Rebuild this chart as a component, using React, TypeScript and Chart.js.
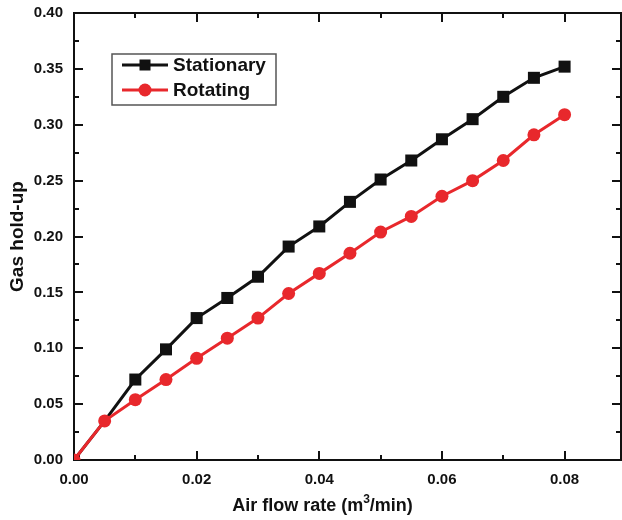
import { useEffect, useRef } from "react";
import { Chart, registerables } from "chart.js";

Chart.register(...registerables);

const flowRates = [0, 0.005, 0.01, 0.015, 0.02, 0.025, 0.03, 0.035, 0.04, 0.045, 0.05, 0.055, 0.06, 0.065, 0.07, 0.075, 0.08];
const stationary = [0, 0.035, 0.072, 0.099, 0.127, 0.145, 0.164, 0.191, 0.209, 0.231, 0.251, 0.268, 0.287, 0.305, 0.325, 0.342, 0.352];
const rotating = [0, 0.035, 0.054, 0.072, 0.091, 0.109, 0.127, 0.149, 0.167, 0.185, 0.204, 0.218, 0.236, 0.25, 0.268, 0.291, 0.309];
const seriesNames = ["Stationary", "Rotating"];
const xMajorTicks = [0, 0.02, 0.04, 0.06, 0.08];
const xMinorTicks = [0.01, 0.03, 0.05, 0.07];
const yMajorTicks = [0, 0.05, 0.1, 0.15, 0.2, 0.25, 0.3, 0.35, 0.4];
const yMinorTicks = [0.025, 0.075, 0.125, 0.175, 0.225, 0.275, 0.325, 0.375];

const FONT = '"Liberation Sans", Arial, sans-serif';
const INK = "#111111";
const RED = "#e8282c";

const framePlugin = {
  id: "frame",
  beforeDatasetsDraw(chart: any) {
    const { ctx, chartArea, scales } = chart;
    const { left, right, top, bottom } = chartArea;
    const x = scales.x;
    const y = scales.y;
    ctx.save();
    ctx.strokeStyle = INK;
    ctx.lineWidth = 2;
    ctx.strokeRect(left, top, right - left, bottom - top);
    const drawX = (v: number, len: number) => {
      const px = Math.round(x.getPixelForValue(v));
      ctx.beginPath();
      ctx.moveTo(px, bottom);
      ctx.lineTo(px, bottom - len);
      ctx.moveTo(px, top);
      ctx.lineTo(px, top + len);
      ctx.stroke();
    };
    const drawY = (v: number, len: number) => {
      const py = Math.round(y.getPixelForValue(v));
      ctx.beginPath();
      ctx.moveTo(left, py);
      ctx.lineTo(left + len, py);
      ctx.moveTo(right, py);
      ctx.lineTo(right - len, py);
      ctx.stroke();
    };
    xMajorTicks.forEach((v) => drawX(v, 9));
    xMinorTicks.forEach((v) => drawX(v, 5));
    yMajorTicks.forEach((v) => drawY(v, 9));
    yMinorTicks.forEach((v) => drawY(v, 5));
    ctx.restore();
  },
};

const annotPlugin = {
  id: "annot",
  afterDraw(chart: any) {
    const { ctx, chartArea } = chart;
    const { left, top, bottom, right } = chartArea;
    ctx.save();
    // legend
    const bx = left + 38;
    const by = top + 41;
    const bw = 164;
    const bh = 51;
    ctx.strokeStyle = "#555555";
    ctx.lineWidth = 1.5;
    ctx.strokeRect(bx, by, bw, bh);
    const rows = [
      { label: seriesNames[0], color: INK, style: "rect", y: by + 11 },
      { label: seriesNames[1], color: RED, style: "circle", y: by + 36 },
    ];
    rows.forEach((r) => {
      ctx.strokeStyle = r.color;
      ctx.fillStyle = r.color;
      ctx.lineWidth = 3;
      ctx.beginPath();
      ctx.moveTo(bx + 10, r.y);
      ctx.lineTo(bx + 56, r.y);
      ctx.stroke();
      const cx = bx + 33;
      if (r.style === "rect") {
        ctx.fillRect(cx - 5.5, r.y - 5.5, 11, 11);
      } else {
        ctx.beginPath();
        ctx.arc(cx, r.y, 6.5, 0, Math.PI * 2);
        ctx.fill();
      }
      ctx.fillStyle = INK;
      ctx.font = `bold 19px ${FONT}`;
      ctx.textBaseline = "middle";
      ctx.textAlign = "left";
      ctx.fillText(r.label, bx + 61, r.y + 1);
    });

    // x title with superscript
    ctx.fillStyle = INK;
    ctx.textBaseline = "alphabetic";
    ctx.textAlign = "left";
    const main = `bold 18px ${FONT}`;
    const sup = `bold 12px ${FONT}`;
    const p1 = "Air flow rate (m";
    const p2 = "3";
    const p3 = "/min)";
    ctx.font = main;
    const w1 = ctx.measureText(p1).width;
    const w3 = ctx.measureText(p3).width;
    ctx.font = sup;
    const w2 = ctx.measureText(p2).width;
    const total = w1 + w2 + w3;
    const cx = (left + right) / 2 - 25;
    let sx = cx - total / 2;
    const base = 511;
    ctx.font = main;
    ctx.fillText(p1, sx, base);
    sx += w1;
    ctx.font = sup;
    ctx.fillText(p2, sx, base - 8);
    sx += w2;
    ctx.font = main;
    ctx.fillText(p3, sx, base);

    // y title
    ctx.translate(18, (top + bottom) / 2);
    ctx.rotate(-Math.PI / 2);
    ctx.font = `bold 19px ${FONT}`;
    ctx.textAlign = "center";
    ctx.textBaseline = "middle";
    ctx.fillText("Gas hold-up", 0, 0);
    ctx.restore();
  },
};

const zeroPadding = (s: any) => {
  s.paddingLeft = 0;
  s.paddingRight = 0;
  s.paddingTop = 0;
  s.paddingBottom = 0;
};

export default function App() {
  const ref = useRef<HTMLCanvasElement | null>(null);
  useEffect(() => {
    document.body.style.margin = "0";
    const canvas = ref.current;
    if (!canvas) return;
    const chart = new Chart(canvas, {
      type: "line",
      data: {
        datasets: [
          {
            label: seriesNames[0],
            data: flowRates.map((x, i) => ({ x, y: stationary[i] })),
            borderColor: INK,
            backgroundColor: INK,
            borderWidth: 3,
            pointStyle: "rect",
            // the marker at the first non-zero flow is hidden behind the red one in the original
            pointRadius: (c: any) => (c.dataIndex === 1 ? 0 : 8.5),
            pointBorderWidth: 0,
            tension: 0,
            order: 1,
          },
          {
            label: seriesNames[1],
            data: flowRates.map((x, i) => ({ x, y: rotating[i] })),
            borderColor: RED,
            backgroundColor: RED,
            borderWidth: 3,
            pointStyle: "circle",
            pointRadius: 6.5,
            pointBorderWidth: 0,
            tension: 0,
            order: 0,
          },
        ],
      },
      options: {
        animation: false,
        responsive: false,
        devicePixelRatio: 1,
        layout: { autoPadding: false, padding: { top: 13, right: 1, left: 0, bottom: 0 } },
        plugins: {
          legend: { display: false },
          tooltip: { enabled: false },
          title: { display: false },
        },
        scales: {
          x: {
            type: "linear",
            min: 0,
            max: 0.0892,
            afterBuildTicks: (s: any) => {
              s.ticks = xMajorTicks.map((v) => ({ value: v }));
            },
            afterFit: (s: any) => {
              s.height = 60;
              zeroPadding(s);
            },
            grid: { display: false, drawTicks: false },
            border: { display: false },
            ticks: {
              autoSkip: false,
              maxRotation: 0,
              padding: 11,
              color: INK,
              font: { family: FONT, size: 15, weight: "bold" },
              callback: (v: any) => Number(v).toFixed(2),
            },
          },
          y: {
            type: "linear",
            min: 0,
            max: 0.4,
            afterBuildTicks: (s: any) => {
              s.ticks = yMajorTicks.map((v) => ({ value: v }));
            },
            afterFit: (s: any) => {
              s.width = 74;
              zeroPadding(s);
            },
            grid: { display: false, drawTicks: false },
            border: { display: false },
            ticks: {
              autoSkip: false,
              padding: 11,
              color: INK,
              font: { family: FONT, size: 15, weight: "bold" },
              callback: (v: any) => Number(v).toFixed(2),
            },
          },
        },
      },
      plugins: [framePlugin, annotPlugin],
    });
    return () => chart.destroy();
  }, []);
  return <canvas ref={ref} width={622} height={520} style={{ display: "block" }} />;
}
